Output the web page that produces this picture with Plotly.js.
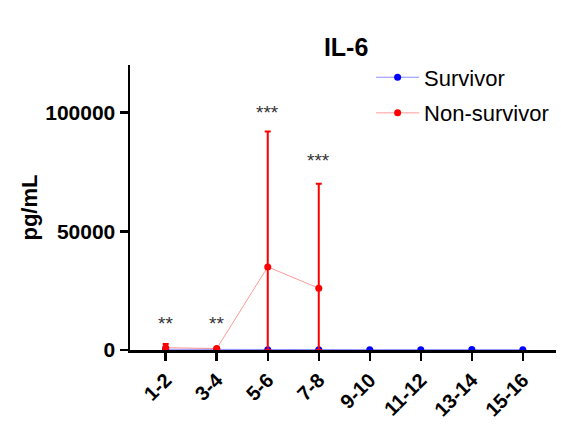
<!DOCTYPE html>
<html><head><meta charset="utf-8">
<script src="https://cdn.plot.ly/plotly-3.0.1.min.js"></script>
<style>html,body{margin:0;padding:0;background:#fff}#chart{width:561px;height:425px}</style>
</head><body><div id="chart"></div>
<script>
const categories = ["1-2","3-4","5-6","7-8","9-10","11-12","13-14","15-16"];
const survivor = [300, 200, 150, 150, 150, 150, 200, 150];
const nonSurvivorCats = ["1-2","3-4","5-6","7-8"];
const nonSurvivor = [1000, 600, 35000, 26000];
const nonSurvivorErrPlus = [1500, 300, 57000, 44000];
const nonSurvivorErrMinus = [1000, 600, 35000, 26000];
const sigLabels = ["**","**","***","***"];
const sigY = [11000, 11000, 100000, 80000];

const traces = [
  {x: categories, y: survivor, name: "Survivor", type: "scatter", mode: "lines+markers", legendgroup: "s",
   line: {color: "rgba(0,0,255,0.45)", width: 1}, marker: {color: "#0000ff", size: 7}, cliponaxis: false},
  {x: nonSurvivorCats, y: nonSurvivor, name: "Non-survivor", type: "scatter", mode: "lines+markers", legendgroup: "n",
   line: {color: "rgba(255,0,0,0.4)", width: 1}, marker: {color: "#ff0000", size: 7}, cliponaxis: false,
   error_y: {type: "data", symmetric: false, array: nonSurvivorErrPlus, arrayminus: nonSurvivorErrMinus,
             color: "#ff0000", thickness: 2, width: 3}}
];

const annotations = nonSurvivorCats.map((c, i) => ({
  x: c, y: sigY[i], xref: "x", yref: "y", text: sigLabels[i], showarrow: false,
  font: {family: "Arial, Liberation Sans", size: 19, color: "#333"}
}));

const layout = {
  width: 561, height: 425,
  margin: {l: 130, r: 5, t: 65, b: 75},
  paper_bgcolor: "#fff", plot_bgcolor: "#fff",
  title: {text: "<b>IL-6</b>", x: 0.617, xanchor: "center", y: 0.89, yanchor: "middle",
          font: {family: "Arial, Liberation Sans", size: 25, color: "#000"}},
  font: {family: "Arial, Liberation Sans", color: "#000"},
  xaxis: {type: "category", categoryorder: "array", categoryarray: categories,
          range: [-0.7, 7.65], showgrid: false, zeroline: false,
          showline: true, linecolor: "#000", linewidth: 2.5,
          ticks: "outside", ticklen: 8, tickwidth: 2.5, tickcolor: "#000",
          tickangle: -45, tickfont: {family: "Arial, Liberation Sans", size: 20, color: "#000", weight: "bold"}},
  yaxis: {range: [0, 120000], showgrid: false, zeroline: false,
          showline: true, linecolor: "#000", linewidth: 2.5,
          ticks: "outside", ticklen: 8, tickwidth: 2.5, tickcolor: "#000",
          tickvals: [0, 50000, 100000], ticktext: ["0","50000","100000"],
          tickfont: {family: "Arial, Liberation Sans", size: 21, color: "#000", weight: "bold"},
          title: {text: "<b>pg/mL</b>", standoff: 2, font: {family: "Arial, Liberation Sans", size: 22, color: "#000"}}},
  legend: {x: 0.566, y: 1.03, xanchor: "left", yanchor: "top", bgcolor: "rgba(0,0,0,0)",
           traceorder: "grouped", tracegroupgap: 4,
           font: {family: "Arial, Liberation Sans", size: 22, color: "#000"}, itemwidth: 43},
  showlegend: true,
  annotations: annotations
};

Plotly.newPlot("chart", traces, layout, {displayModeBar: false, staticPlot: true});
</script></body></html>
